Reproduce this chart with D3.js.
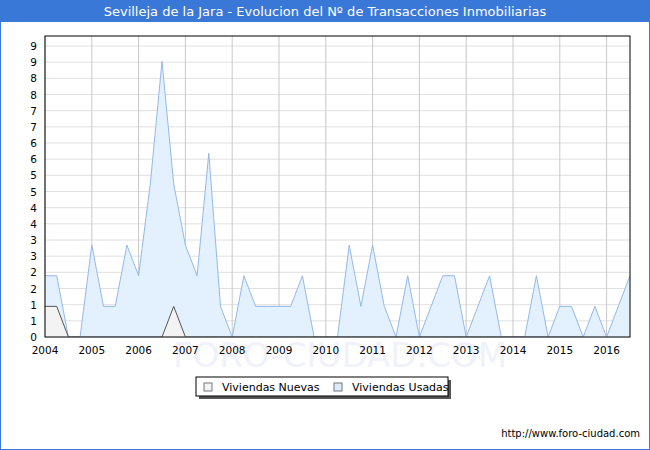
<!DOCTYPE html>
<html><head><meta charset="utf-8">
<script src="https://cdn.jsdelivr.net/npm/d3@7"></script>
<style>body{margin:0;background:#fff}svg{font-family:"DejaVu Sans",sans-serif}</style>
</head><body><svg id="c" width="650" height="450"></svg>
<script>
var title = "Sevilleja de la Jara - Evolucion del Nº de Transacciones Inmobiliarias"
var years = d3.range(2004, 2017)
// quarterly values starting 2004 Q1
var usadas = [2,2,0,0, 3,1,1,3, 2,5,9,5, 3,2,6,1, 0,2,1,1, 1,1,2,0, 0,0,3,1, 3,1,0,2, 0,1,2,2, 0,1,2,0, 0,0,2,0, 1,1,0,1, 0,1,2]
var nuevas = [1,1,0,0, 0,0,0,0, 0,0,0,1, 0,0,0,0, 0,0,0,0, 0,0,0,0, 0,0,0,0, 0,0,0,0, 0,0,0,0, 0,0,0,0, 0,0,0,0, 0,0,0]
var yTicks = d3.range(0, 19).map(function(k){return k*9.5/18})
var yLabels = d3.range(0, 19).map(function(k){return Math.ceil(k/2)})

var svg = d3.select("#c")
svg.append("rect").attr("x",0.5).attr("y",0.5).attr("width",649).attr("height",449).attr("fill","#fff").attr("stroke","#3a78d8")
svg.append("rect").attr("x",0).attr("y",0).attr("width",650).attr("height",22).attr("fill","#3a78d8")
svg.append("text").attr("x",325).attr("y",16).attr("text-anchor","middle").attr("fill","#fff").style("font-size","13px").text(title)

var m = {l:45, r:630, t:36, b:337}
var x = d3.scaleLinear().domain([2004, 2016.5]).range([m.l, m.r])
var y = d3.scaleLinear().domain([0, 9.5]).range([m.b, 46])

var g = svg.append("g")
g.selectAll(".hg").data(yTicks).enter().append("line")
    .attr("x1",m.l).attr("x2",m.r).attr("y1",function(d){return y(d)}).attr("y2",function(d){return y(d)})
    .attr("stroke","#e0e0e0")
g.selectAll(".vg").data(years).enter().append("line")
    .attr("x1",function(d){return x(d)}).attr("x2",function(d){return x(d)}).attr("y1",m.t).attr("y2",m.b)
    .attr("stroke","#c8c8c8")

svg.append("text").attr("x",340).attr("y",367).attr("text-anchor","middle").attr("fill","#f1f1fb")
    .style("font-size","34px").text("FORO-CIUDAD.COM")

var xs = function(d,i){return x(2004 + i*0.25)}
var area = function(vals){return d3.area().x(xs).y0(y(0)).y1(function(d){return y(d)})(vals)}
var line = function(vals){return d3.line().x(xs).y(function(d){return y(d)})(vals)}
svg.append("clipPath").attr("id","nc").append("rect").attr("x",m.l).attr("y",m.t).attr("width",m.r-m.l).attr("height",m.b-m.t-0.5)
g.append("path").attr("d",area(usadas)).attr("fill","#e3f0fd")
g.append("path").attr("d",line(usadas)).attr("fill","none").attr("stroke","#94b8ea").attr("clip-path","url(#nc)")
g.append("path").attr("d",area(nuevas)).attr("fill","#f3f3f3")
g.append("path").attr("d",line(nuevas)).attr("fill","none").attr("stroke","#555").attr("clip-path","url(#nc)")

svg.append("rect").attr("x",m.l).attr("y",m.t).attr("width",m.r-m.l).attr("height",m.b-m.t).attr("fill","none").attr("stroke","#000")

svg.selectAll(".yl").data(yTicks).enter().append("text")
    .attr("x",37).attr("y",function(d){return y(d)+4}).attr("text-anchor","end").style("font-size","10.5px")
    .text(function(d,i){return yLabels[i]})
svg.selectAll(".xl").data(years).enter().append("text")
    .attr("x",function(d){return x(d)}).attr("y",354).attr("text-anchor","middle").style("font-size","10.5px")
    .text(function(d){return d})

// legend
svg.append("rect").attr("x",199).attr("y",380).attr("width",252).attr("height",19).attr("fill","#555")
svg.append("rect").attr("x",196).attr("y",377).attr("width",252).attr("height",19).attr("fill","#fff").attr("stroke","#000")
var leg = [{t:"Viviendas Nuevas",c:"#f3f3f3",x:204},{t:"Viviendas Usadas",c:"#dcecfb",x:334}]
leg.forEach(function(d){
    svg.append("rect").attr("x",d.x).attr("y",383).attr("width",8).attr("height",8).attr("fill",d.c).attr("stroke","#777")
    svg.append("text").attr("x",d.x+18).attr("y",391).style("font-size","11px").text(d.t)
})
svg.append("text").attr("x",640).attr("y",437).attr("text-anchor","end").style("font-size","10px").text("http://www.foro-ciudad.com")
</script></body></html>
